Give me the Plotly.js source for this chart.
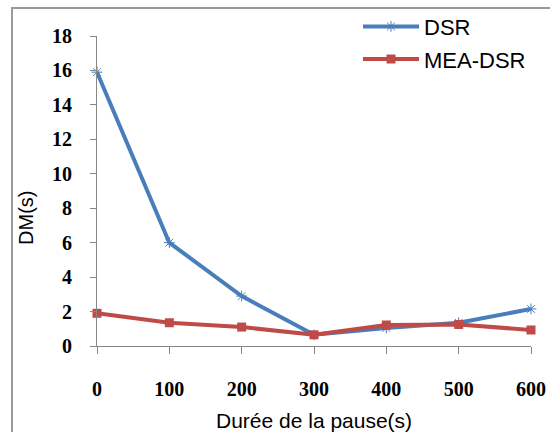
<!DOCTYPE html>
<html><head><meta charset="utf-8">
<script src="https://cdn.plot.ly/plotly-3.0.1.min.js"></script>
<style>
html,body{margin:0;padding:0;background:#fff;}
#frame{position:absolute;left:11px;top:7px;width:560px;height:440px;border-left:2px solid #9a9a9a;border-top:2px solid #9a9a9a;}
#chart{position:absolute;left:0;top:0;width:550px;height:432px;}
</style></head>
<body>
<div id="frame"></div>
<div id="chart"></div>
<script>
var pauses = [0, 100, 200, 300, 400, 500, 600];
var dsr = [15.9, 6.0, 2.9, 0.65, 1.05, 1.35, 2.15];
var meaDsr = [1.9, 1.35, 1.1, 0.65, 1.22, 1.25, 0.93];
var seriesNames = ['DSR', 'MEA-DSR'];
var xTitle = 'Durée de la pause(s)';
var yTitle = 'DM(s)';

var traces = [
  {x: pauses, y: dsr, name: seriesNames[0], type: 'scatter', mode: 'lines+markers', legendgroup: 'a',
   line: {color: '#4A7EBB', width: 4}, cliponaxis: false,
   marker: {symbol: 'asterisk-open', size: 9, color: '#4A7EBB', line: {color: '#4A7EBB', width: 1}}},
  {x: pauses, y: meaDsr, name: seriesNames[1], type: 'scatter', mode: 'lines+markers', legendgroup: 'b',
   line: {color: '#BE4B48', width: 4}, cliponaxis: false,
   marker: {symbol: 'square', size: 9, color: '#BE4B48'}}
];

var layout = {
  width: 550, height: 432,
  margin: {l: 97, r: 19, t: 36, b: 86, autoexpand: false},
  paper_bgcolor: 'rgba(0,0,0,0)', plot_bgcolor: 'rgba(0,0,0,0)',
  showlegend: true,
  legend: {x: 1.0, xanchor: 'right', y: 0.977, yanchor: 'middle', xref: 'paper', yref: 'paper',
    font: {family: 'Liberation Sans, Arial, sans-serif', size: 22, color: '#000'},
    bgcolor: 'rgba(0,0,0,0)', traceorder: 'grouped', tracegroupgap: 1, itemwidth: 56},
  xaxis: {range: [0, 600], tickvals: pauses, ticktext: pauses.map(String),
    showgrid: false, zeroline: false, showline: true, linecolor: '#868686', linewidth: 1,
    ticks: 'outside', ticklen: 7, tickcolor: '#868686', ticklabelstandoff: 18,
    tickfont: {family: 'Liberation Serif, Times New Roman, serif', size: 20, color: '#000', weight: 'bold'}},
  yaxis: {range: [0, 18], dtick: 2, tick0: 0,
    showgrid: false, zeroline: false, showline: true, linecolor: '#868686', linewidth: 1,
    ticks: 'outside', ticklen: 6, tickcolor: '#868686', ticklabelstandoff: 14,
    tickfont: {family: 'Liberation Serif, Times New Roman, serif', size: 20, color: '#000', weight: 'bold'}},
  annotations: [
    {text: xTitle, xref: 'paper', yref: 'paper', x: 0.5, y: -0.239, xanchor: 'center', yanchor: 'middle',
     showarrow: false, font: {family: 'Liberation Sans, Arial, sans-serif', size: 21, color: '#000'}},
    {text: yTitle, xref: 'paper', yref: 'paper', x: -0.1636, y: 0.413, xanchor: 'center', yanchor: 'middle',
     textangle: -90, showarrow: false, font: {family: 'Liberation Sans, Arial, sans-serif', size: 20, color: '#000'}}
  ]
};

Plotly.newPlot('chart', traces, layout, {displayModeBar: false, staticPlot: true});
</script>
</body></html>
